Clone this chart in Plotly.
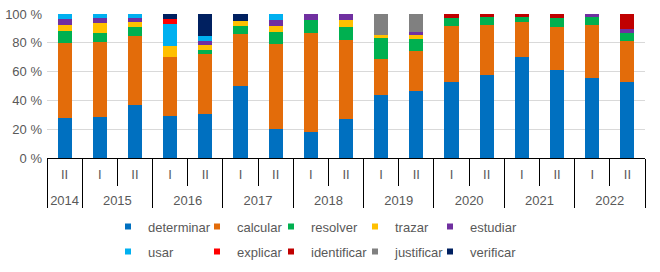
import plotly.graph_objects as go

years = ["2014", "2015", "2015", "2016", "2016", "2017", "2017", "2018", "2018",
         "2019", "2019", "2020", "2020", "2021", "2021", "2022", "2022"]
halves = ["II", "I", "II", "I", "II", "I", "II", "I", "II",
          "I", "II", "I", "II", "I", "II", "I", "II"]

determinar = [27.5, 28.4, 37.0, 29.3, 30.9, 50.1, 20.3, 18.0, 27.0, 43.6, 46.7, 52.7, 57.5, 70.0, 61.4, 55.7, 52.4]
calcular = [52.7, 52.4, 48.0, 40.9, 41.1, 36.0, 58.7, 68.6, 55.0, 24.9, 27.7, 39.3, 34.6, 24.7, 29.6, 37.0, 29.1]
resolver = [8.1, 6.2, 5.8, 0, 3.0, 5.8, 8.8, 9.2, 9.2, 15.0, 8.5, 5.3, 5.5, 3.0, 6.0, 5.1, 5.5]
trazar = [3.9, 6.5, 3.5, 7.6, 3.5, 3.2, 3.9, 0, 4.4, 2.1, 2.3, 0, 0, 0, 0, 0, 0]
estudiar = [4.2, 3.7, 3.0, 0, 2.8, 0, 4.4, 4.2, 4.4, 0, 2.1, 0, 0, 0, 0, 2.3, 2.3]
usar = [3.7, 2.8, 2.8, 15.0, 3.5, 0, 3.9, 0, 0, 0, 0, 0, 0, 0, 0, 0, 0]
explicar = [0, 0, 0, 3.9, 0, 0, 0, 0, 0, 0, 0, 0, 0, 0, 0, 0, 0]
identificar = [0, 0, 0, 0, 0, 0, 0, 0, 0, 0, 0, 2.8, 2.3, 2.3, 3.0, 0, 10.6]
justificar = [0, 0, 0, 0, 0, 0, 0, 0, 0, 14.3, 12.7, 0, 0, 0, 0, 0, 0]
verificar = [0, 0, 0, 3.2, 15.2, 4.8, 0, 0, 0, 0, 0, 0, 0, 0, 0, 0, 0]

series = [
    ("determinar", determinar, "#0070C0"),
    ("calcular", calcular, "#E36C0A"),
    ("resolver", resolver, "#00B050"),
    ("trazar", trazar, "#FFC000"),
    ("estudiar", estudiar, "#7030A0"),
    ("usar", usar, "#00B0F0"),
    ("explicar", explicar, "#FF0000"),
    ("identificar", identificar, "#C00000"),
    ("justificar", justificar, "#808080"),
    ("verificar", verificar, "#002060"),
]

# invisible taller spacer around inner labels pushes the year row lower;
# the first label uses a slightly different (but identical-looking) spacer so that
# plotly orders "I" before "II" inside each year
pad = "<span style='font-size:25px'> </span>"
pad0 = "<span style='font-size:25px;'> </span>"
inner = [(pad0 if i == 0 else pad) + h + (pad0 if i == 0 else pad)
         for i, h in enumerate(halves)]

font_col = "#595959"
W, H = 660, 272
# legend box left edges (px) for the five legend columns, and row centres (px)
leg_cols_px = [108, 197, 271, 355, 430]
leg_rows_px = [226.5, 251.5]
plot_l, plot_r, plot_t, plot_b = 47, 645, 14, 158

fig = go.Figure()
layout_legends = {}
for i, (name, vals, color) in enumerate(series):
    lname = "legend" if i == 0 else f"legend{i + 1}"
    fig.add_trace(go.Bar(
        x=[years, inner], y=vals, name=name,
        marker=dict(color=color, line=dict(width=0)),
        showlegend=False,
    ))
    # small square legend key on a hidden axis
    fig.add_trace(go.Scatter(
        x=[None], y=[None], mode="markers", name=name,
        marker=dict(symbol="square", size=6, color=color),
        xaxis="x2", yaxis="y2", legend=lname, showlegend=True,
    ))
    col, row = i % 5, i // 5
    layout_legends[lname] = dict(
        orientation="h",
        xref="container", x=leg_cols_px[col] / W, xanchor="left",
        yref="container", y=1 - leg_rows_px[row] / H, yanchor="middle",
        font=dict(size=13, color=font_col), bgcolor="rgba(0,0,0,0)",
        borderwidth=0,
    )

fig.update_layout(
    barmode="stack",
    barnorm="percent",
    bargap=0.6,
    width=W, height=H,
    margin=dict(l=plot_l, r=W - plot_r, t=plot_t, b=H - plot_b),
    plot_bgcolor="white", paper_bgcolor="white",
    font=dict(family="Liberation Sans, Arial, sans-serif", size=13, color=font_col),
    showlegend=True,
    xaxis2=dict(visible=False, overlaying="x", range=[0, 1]),
    yaxis2=dict(visible=False, overlaying="y", range=[0, 1]),
    **layout_legends,
)
fig.update_layout(yaxis=dict(range=[0, 100], dtick=20, ticksuffix=" %",
                             showgrid=True, gridcolor="#D9D9D9", gridwidth=1,
                             zeroline=False, showline=False,
                             tickfont=dict(size=13, color=font_col),
                             ticklabelstandoff=4, automargin=False))
fig.update_layout(xaxis=dict(type="multicategory", showline=True, linecolor="#000000",
                             linewidth=1, ticks="outside", tickson="boundaries",
                             ticklen=27, tickcolor="#000000", dividercolor="#000000",
                             dividerwidth=1, showdividers=True,
                             tickfont=dict(size=13, color=font_col), showgrid=False,
                             ticklabelstandoff=4,
                             range=[-0.5, 16.5], automargin=False))

fig.write_html("out.html", config={"displayModeBar": False},
               post_script="document.body.style.margin='0';")
